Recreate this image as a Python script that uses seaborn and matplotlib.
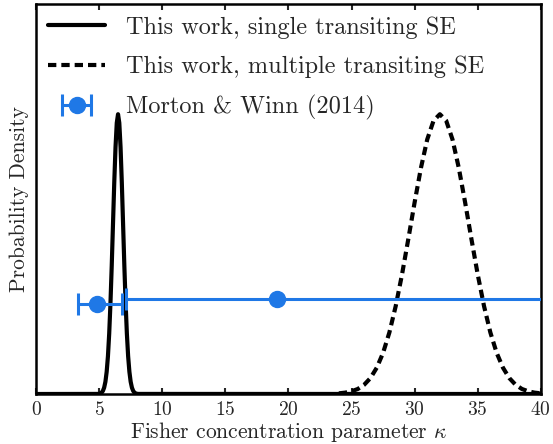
import numpy as np
import pandas as pd
import matplotlib
matplotlib.use("Agg")
import matplotlib.pyplot as plt
import seaborn as sns
from matplotlib.legend_handler import HandlerErrorbar

# --- data ---
single_x = [0.0, 4.9, 5.0, 5.1, 5.2, 5.3, 5.4, 5.5, 5.6, 5.7, 5.8, 5.9, 6.0, 6.1, 6.2, 6.3, 6.4,
            6.5, 6.6, 6.7, 6.8, 6.9, 7.0, 7.1, 7.2, 7.3, 7.4, 7.5, 7.6, 7.7, 7.8, 7.9, 8.0, 8.1, 40.0]
single_y = [0.0, 0.0003, 0.0009, 0.0022, 0.0051, 0.0111, 0.0228, 0.0439, 0.0796, 0.135, 0.216,
            0.325, 0.458, 0.607, 0.755, 0.882, 0.969, 1.0, 0.969, 0.882, 0.755, 0.607, 0.458,
            0.325, 0.216, 0.135, 0.0796, 0.0439, 0.0228, 0.0111, 0.0051, 0.0022, 0.0009, 0.0003, 0.0]

multi_x = [24.0, 24.5, 25.0, 25.5, 26.0, 26.5, 27.0, 27.5, 28.0, 28.5, 29.0, 29.5, 30.0, 30.5,
           31.0, 31.5, 32.0, 32.5, 33.0, 33.5, 34.0, 34.5, 35.0, 35.5, 36.0, 36.5, 37.0, 37.5,
           38.0, 38.5, 39.0, 39.5, 40.0]
multi_y = [0.0024, 0.0049, 0.0097, 0.018, 0.033, 0.057, 0.094, 0.147, 0.220, 0.314, 0.427,
           0.554, 0.685, 0.808, 0.910, 0.977, 1.0, 0.977, 0.910, 0.808, 0.685, 0.554, 0.427,
           0.314, 0.220, 0.147, 0.094, 0.057, 0.033, 0.018, 0.0097, 0.0049, 0.0024]

mw_kappa = [4.8, 19.1]
mw_lo = [3.3, 7.1]
mw_hi = [6.8, 45.0]
mw_y = [0.32, 0.34]

labels = ["This work, single transiting SE", "This work, multiple transiting SE",
          "Morton & Winn (2014)"]
xticks = [0, 5, 10, 15, 20, 25, 30, 35, 40]

# --- style ---
sns.set_style("ticks")
plt.rcParams["font.family"] = ["serif"]
plt.rcParams["font.serif"] = ["cmr10", "DejaVu Serif"]
plt.rcParams["mathtext.fontset"] = "cm"
plt.rcParams["axes.formatter.use_mathtext"] = True

blue = "#1f78e6"

fig = plt.figure(figsize=(5.53, 4.44), dpi=100)
ax = fig.add_axes([0.0651, 0.1126, 0.978 - 0.0651, 0.991 - 0.1126])

df_s = pd.DataFrame({"x": single_x, "y": single_y})
df_m = pd.DataFrame({"x": multi_x, "y": multi_y})
sns.lineplot(data=df_s, x="x", y="y", ax=ax, color="black", lw=3, label=labels[0],
             sort=False, estimator=None)
sns.lineplot(data=df_m, x="x", y="y", ax=ax, color="black", lw=3, label=labels[1],
             sort=False, estimator=None, linestyle=(0, (2.0, 1.2)))

for i in range(len(mw_kappa)):
    xe = [[mw_kappa[i] - mw_lo[i]], [mw_hi[i] - mw_kappa[i]]]
    eb = ax.errorbar([mw_kappa[i]], [mw_y[i]], xerr=xe, fmt="o", color=blue, ms=11.5,
                     elinewidth=2.2, capsize=8, capthick=2.2, zorder=5,
                     label=labels[2] if i == 0 else None)

ax.set_xlim(0, 40)
ax.set_ylim(0, 1.394)
ax.set_xticks(xticks)
ax.set_yticks([])
ax.tick_params(axis="x", direction="in", top=True, length=4, width=1.5, labelsize=14, pad=5)
for s in ax.spines.values():
    s.set_linewidth(1.8)
    s.set_color("black")
ax.set_xlabel(r"Fisher concentration parameter $\kappa$", fontsize=15.5, labelpad=1)
ax.set_ylabel("Probability Density", fontsize=15.5, labelpad=5)

handles, labs = ax.get_legend_handles_labels()
order = [labs.index(l) for l in labels]
leg = ax.legend([handles[k] for k in order], [labs[k] for k in order], loc="upper left",
                frameon=False, fontsize=17.5, handlelength=2.35, handletextpad=0.85,
                labelspacing=0.7, borderaxespad=0.2, borderpad=0.3,
                handler_map={type(eb): HandlerErrorbar(xerr_size=0.6)})

fig.savefig("out.png", dpi=100)
